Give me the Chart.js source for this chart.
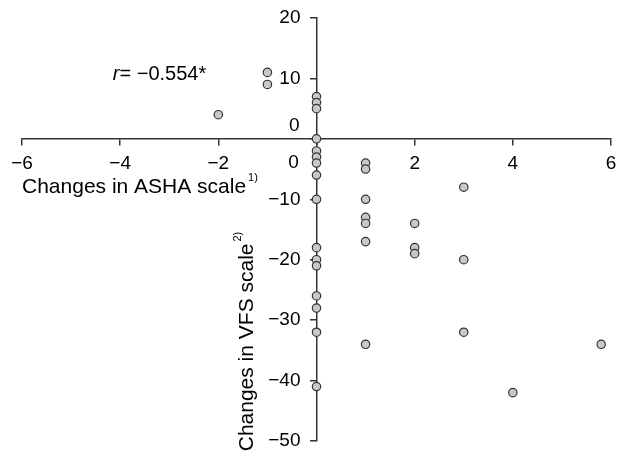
<!DOCTYPE html>
<html>
<head>
<meta charset="utf-8">
<script src="https://cdn.jsdelivr.net/npm/chart.js@4"></script>
<style>
    html, body { margin: 0; padding: 0; background: #fff; }
    #wrap { width: 629px; height: 455px; }
</style>
</head>
<body>
<div id="wrap"><canvas id="scatter-canvas"></canvas></div>
<script>
// changes in ASHA scale (x) vs changes in VFS scale (y)
const ashaChange = [-2, -1, -1,
    0, 0, 0, 0, 0, 0, 0, 0, 0, 0, 0, 0, 0, 0, 0, 0,
    1, 1, 1, 1, 1, 1, 1,
    2, 2, 2,
    3, 3, 3,
    4,
    5.8];
const vfsChange = [4, 11, 9,
    7, 6, 5, 0, -2, -3, -4, -6, -10, -18, -20, -21, -26, -28, -32, -41,
    -4, -5, -10, -13, -14, -17, -34,
    -14, -18, -19,
    -8, -20, -32,
    -42,
    -34];
const xTicks = [-6, -4, -2, 0, 2, 4, 6];
const yTicks = [-50, -40, -30, -20, -10, 0, 10, 20];
const xTitle = 'Changes in ASHA scale';
const yTitle = 'Changes in VFS scale';
const corrText = '= \u22120.554*';

const FONT = '"Liberation Sans", Arial, sans-serif';
const AXIS = '#333';

function fmt(v) {
    if (v === 0) return '';   // zeros are drawn by the plugin, offset like the original
    return v < 0 ? '\u2212' + Math.abs(v) : String(v);
}

const points = [];
for (const i in ashaChange) {
    points.push({x: ashaChange[i], y: vfsChange[i]});
}

// extra text: y tick labels (chart.js puts them on the axis line when the
// axis is positioned by value), shifted zero labels, r value, axis titles
const labelsPlugin = {
    id: 'labels',
    afterDraw(chart) {
        const ctx = chart.ctx;
        const x = chart.scales.x;
        const y = chart.scales.y;
        const x0 = x.getPixelForValue(0);
        const y0 = y.getPixelForValue(0);
        ctx.save();
        ctx.fillStyle = '#000';
        ctx.font = '19px ' + FONT;

        // y tick labels
        ctx.textAlign = 'right';
        ctx.textBaseline = 'middle';
        for (const t of y.ticks) {
            const s = fmt(t.value);
            if (s) ctx.fillText(s, x0 - 16, y.getPixelForValue(t.value));
        }

        // zero labels
        ctx.fillText('0', x0 - 17, y0 - 13);
        ctx.textAlign = 'center';
        ctx.textBaseline = 'top';
        ctx.fillText('0', x0 - 23, y0 + 14);

        // correlation
        ctx.textAlign = 'left';
        ctx.textBaseline = 'alphabetic';
        const rx = x.getPixelForValue(-4.15);
        const ry = y.getPixelForValue(9.8);
        ctx.font = 'italic 20px ' + FONT;
        ctx.fillText('r', rx, ry);
        const rw = ctx.measureText('r').width;
        ctx.font = '20px ' + FONT;
        ctx.fillText(corrText, rx + rw, ry);

        // x title
        ctx.font = '21px ' + FONT;
        const tx = chart.chartArea.left;
        const ty = y0 + 54;
        ctx.fillText(xTitle, tx, ty);
        let w = ctx.measureText(xTitle).width;
        ctx.font = '11px ' + FONT;
        ctx.fillText('1)', tx + w + 2, ty - 12);

        // y title, rotated
        ctx.translate(x0 - 64, y.getPixelForValue(-51.7));
        ctx.rotate(-Math.PI / 2);
        ctx.font = '21px ' + FONT;
        ctx.fillText(yTitle, 0, 0);
        w = ctx.measureText(yTitle).width;
        ctx.font = '11px ' + FONT;
        ctx.fillText('2)', w + 2, -12);
        ctx.restore();
    }
};

const ctx = document.getElementById('scatter-canvas');
const chart = new Chart(ctx, {
    type: 'scatter',
    data: {
        datasets: [{
            data: points,
            pointRadius: 4.2,
            pointBorderWidth: 1.2,
            pointBackgroundColor: '#c8c8c8',
            pointBorderColor: '#333',
        }]
    },
    options: {
        responsive: true,
        maintainAspectRatio: false,
        animation: false,
        layout: {
            padding: {left: 22, right: 18, top: 18, bottom: 14}
        },
        plugins: {
            legend: {display: false},
            tooltip: {enabled: false}
        },
        scales: {
            x: {
                type: 'linear',
                position: {y: 0},
                min: -6,
                max: 6,
                afterBuildTicks: (axis) => { axis.ticks = xTicks.map(v => ({value: v})); },
                ticks: {
                    callback: fmt,
                    color: '#000',
                    font: {family: FONT, size: 19},
                    padding: 8,
                    maxRotation: 0,
                },
                grid: {drawOnChartArea: false, tickLength: 6, color: AXIS, lineWidth: 1.5},
                border: {color: AXIS, width: 1.5},
            },
            y: {
                type: 'linear',
                position: {x: 0},
                min: -50,
                max: 20,
                afterBuildTicks: (axis) => { axis.ticks = yTicks.map(v => ({value: v})); },
                ticks: {
                    display: false,
                    font: {family: FONT, size: 19},
                },
                grid: {drawOnChartArea: false, tickLength: 6, color: AXIS, lineWidth: 1.5},
                border: {color: AXIS, width: 1.5},
            }
        }
    },
    plugins: [labelsPlugin]
});
</script>
</body>
</html>
